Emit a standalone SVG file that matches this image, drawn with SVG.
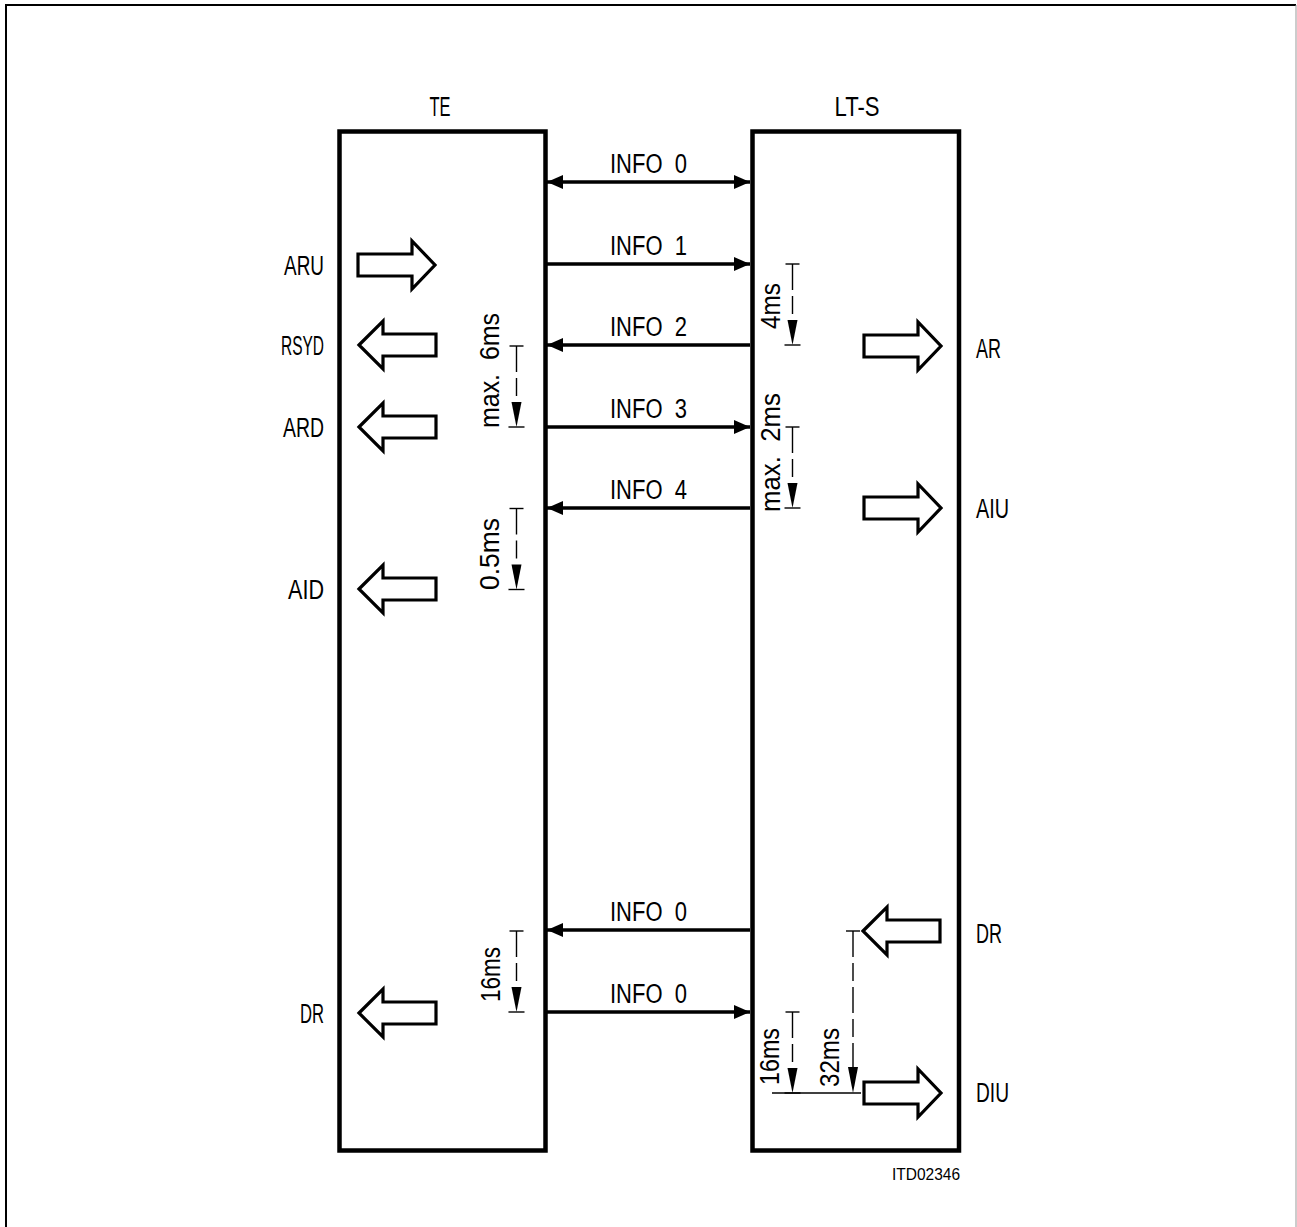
<svg xmlns="http://www.w3.org/2000/svg" xmlns:xlink="http://www.w3.org/1999/xlink" width="1297" height="1227" viewBox="0 0 1297 1227">
<style>
text{font-family:"Liberation Sans",Arial,sans-serif;font-size:27px;fill:#000}
.small{font-size:17px}
.box{fill:none;stroke:#000;stroke-width:4.5}
.blk{fill:#fff;stroke:#000;stroke-width:3.2;stroke-linejoin:miter}
.con{stroke:#000;stroke-width:3.3;fill:none}
.dim{stroke:#000;stroke-width:1.4;fill:none}
.dimh{fill:#000;stroke:none}
</style>
<defs>
<marker id="ah" markerUnits="userSpaceOnUse" markerWidth="17" markerHeight="15" refX="16" refY="7" orient="auto-start-reverse" viewBox="0 0 17 15">
<path d="M0,0 L16,7 L0,14 Z" fill="#000"/>
</marker>
<path id="rarr" d="M0,-11 H54 V-24 L77,0 L54,24 V11 H0 Z"/>
<path id="larr" d="M0,0 L24,-24 V-11 H77 V11 H24 V24 Z"/>
<g id="dimmark">
<line x1="-7" y1="0" x2="7" y2="0" class="dim"/>
<line x1="0" y1="0" x2="0" y2="56" class="dim" stroke-dasharray="26 6 18 6"/>
<polygon points="-5,56 5,56 0,81" class="dimh"/>
<line x1="-8" y1="81" x2="8" y2="81" class="dim"/>
</g>
</defs>

<g id="frame">
<path d="M6,1227 V5 H1296" fill="none" stroke="#000" stroke-width="2"/>
<line x1="1296" y1="5" x2="1296" y2="1227" stroke="#999" stroke-width="1"/>
</g>

<g id="node-TE">
<rect class="box" x="339.5" y="131.5" width="206" height="1019"/>
<text x="440" y="116" text-anchor="middle" textLength="21" lengthAdjust="spacingAndGlyphs">TE</text>
</g>
<g id="node-LTS">
<rect class="box" x="752.5" y="131.5" width="206.5" height="1019"/>
<text x="857" y="116" text-anchor="middle" textLength="45" lengthAdjust="spacingAndGlyphs">LT-S</text>
</g>

<g id="connectors">
<line class="con" x1="547" y1="182" x2="750" y2="182" marker-start="url(#ah)" marker-end="url(#ah)"/>
<line class="con" x1="547" y1="264" x2="750" y2="264" marker-end="url(#ah)"/>
<line class="con" x1="750" y1="345" x2="547" y2="345" marker-end="url(#ah)"/>
<line class="con" x1="547" y1="427" x2="750" y2="427" marker-end="url(#ah)"/>
<line class="con" x1="750" y1="508" x2="547" y2="508" marker-end="url(#ah)"/>
<line class="con" x1="750" y1="930" x2="547" y2="930" marker-end="url(#ah)"/>
<line class="con" x1="547" y1="1012" x2="750" y2="1012" marker-end="url(#ah)"/>
<text xml:space="preserve" x="610" y="173" textLength="77" lengthAdjust="spacingAndGlyphs">INFO  0</text>
<text xml:space="preserve" x="610" y="255" textLength="77" lengthAdjust="spacingAndGlyphs">INFO  1</text>
<text xml:space="preserve" x="610" y="336" textLength="77" lengthAdjust="spacingAndGlyphs">INFO  2</text>
<text xml:space="preserve" x="610" y="418" textLength="77" lengthAdjust="spacingAndGlyphs">INFO  3</text>
<text xml:space="preserve" x="610" y="499" textLength="77" lengthAdjust="spacingAndGlyphs">INFO  4</text>
<text xml:space="preserve" x="610" y="921" textLength="77" lengthAdjust="spacingAndGlyphs">INFO  0</text>
<text xml:space="preserve" x="610" y="1003" textLength="77" lengthAdjust="spacingAndGlyphs">INFO  0</text>
</g>

<g id="signals-TE">
<g id="sig-ARU"><use xlink:href="#rarr" href="#rarr" class="blk" transform="translate(358,265)"/>
<text x="324" y="275" text-anchor="end" textLength="40" lengthAdjust="spacingAndGlyphs">ARU</text></g>
<g id="sig-RSYD"><use xlink:href="#larr" href="#larr" class="blk" transform="translate(359,345)"/>
<text x="324" y="355" text-anchor="end" textLength="43" lengthAdjust="spacingAndGlyphs">RSYD</text></g>
<g id="sig-ARD"><use xlink:href="#larr" href="#larr" class="blk" transform="translate(359,427)"/>
<text x="324" y="437" text-anchor="end" textLength="41" lengthAdjust="spacingAndGlyphs">ARD</text></g>
<g id="sig-AID"><use xlink:href="#larr" href="#larr" class="blk" transform="translate(359,589)"/>
<text x="324" y="599" text-anchor="end" textLength="36" lengthAdjust="spacingAndGlyphs">AID</text></g>
<g id="sig-DR-TE"><use xlink:href="#larr" href="#larr" class="blk" transform="translate(359,1013)"/>
<text x="324" y="1023" text-anchor="end" textLength="24" lengthAdjust="spacingAndGlyphs">DR</text></g>
</g>

<g id="signals-LTS">
<g id="sig-AR"><use xlink:href="#rarr" href="#rarr" class="blk" transform="translate(864,346)"/>
<text x="976" y="358" textLength="25" lengthAdjust="spacingAndGlyphs">AR</text></g>
<g id="sig-AIU"><use xlink:href="#rarr" href="#rarr" class="blk" transform="translate(864,508)"/>
<text x="976" y="518" textLength="33" lengthAdjust="spacingAndGlyphs">AIU</text></g>
<g id="sig-DR-LTS"><use xlink:href="#larr" href="#larr" class="blk" transform="translate(863,931)"/>
<text x="976" y="943" textLength="26" lengthAdjust="spacingAndGlyphs">DR</text></g>
<g id="sig-DIU"><use xlink:href="#rarr" href="#rarr" class="blk" transform="translate(864,1093)"/>
<text x="976" y="1102" textLength="33" lengthAdjust="spacingAndGlyphs">DIU</text></g>
</g>

<g id="timings">
<use xlink:href="#dimmark" href="#dimmark" transform="translate(516.5,346)"/>
<use xlink:href="#dimmark" href="#dimmark" transform="translate(516.5,508.5)"/>
<use xlink:href="#dimmark" href="#dimmark" transform="translate(516.5,931)"/>
<use xlink:href="#dimmark" href="#dimmark" transform="translate(792.5,264)"/>
<use xlink:href="#dimmark" href="#dimmark" transform="translate(792.5,427)"/>
<use xlink:href="#dimmark" href="#dimmark" transform="translate(792.5,1012)"/>
<g id="dim-32ms">
<line x1="846" y1="931" x2="860" y2="931" class="dim"/>
<line x1="853" y1="931" x2="853" y2="1067" class="dim" stroke-dasharray="26 6 18 6"/>
<polygon points="848,1067 858,1067 853,1093" class="dimh"/>
</g>
<line x1="772" y1="1093" x2="861" y2="1093" class="dim"/>
<text xml:space="preserve" transform="translate(499,428) rotate(-90)" textLength="115" lengthAdjust="spacingAndGlyphs">max.  6ms</text>
<text transform="translate(499,590) rotate(-90)" textLength="72" lengthAdjust="spacingAndGlyphs">0.5ms</text>
<text transform="translate(500,1002) rotate(-90)" textLength="55" lengthAdjust="spacingAndGlyphs">16ms</text>
<text transform="translate(780,329) rotate(-90)" textLength="46" lengthAdjust="spacingAndGlyphs">4ms</text>
<text xml:space="preserve" transform="translate(780,512) rotate(-90)" textLength="119" lengthAdjust="spacingAndGlyphs">max.  2ms</text>
<text transform="translate(779,1085) rotate(-90)" textLength="57" lengthAdjust="spacingAndGlyphs">16ms</text>
<text transform="translate(839,1087) rotate(-90)" textLength="59" lengthAdjust="spacingAndGlyphs">32ms</text>
</g>

<text class="small" x="892" y="1180" textLength="68" lengthAdjust="spacingAndGlyphs">ITD02346</text>
</svg>
